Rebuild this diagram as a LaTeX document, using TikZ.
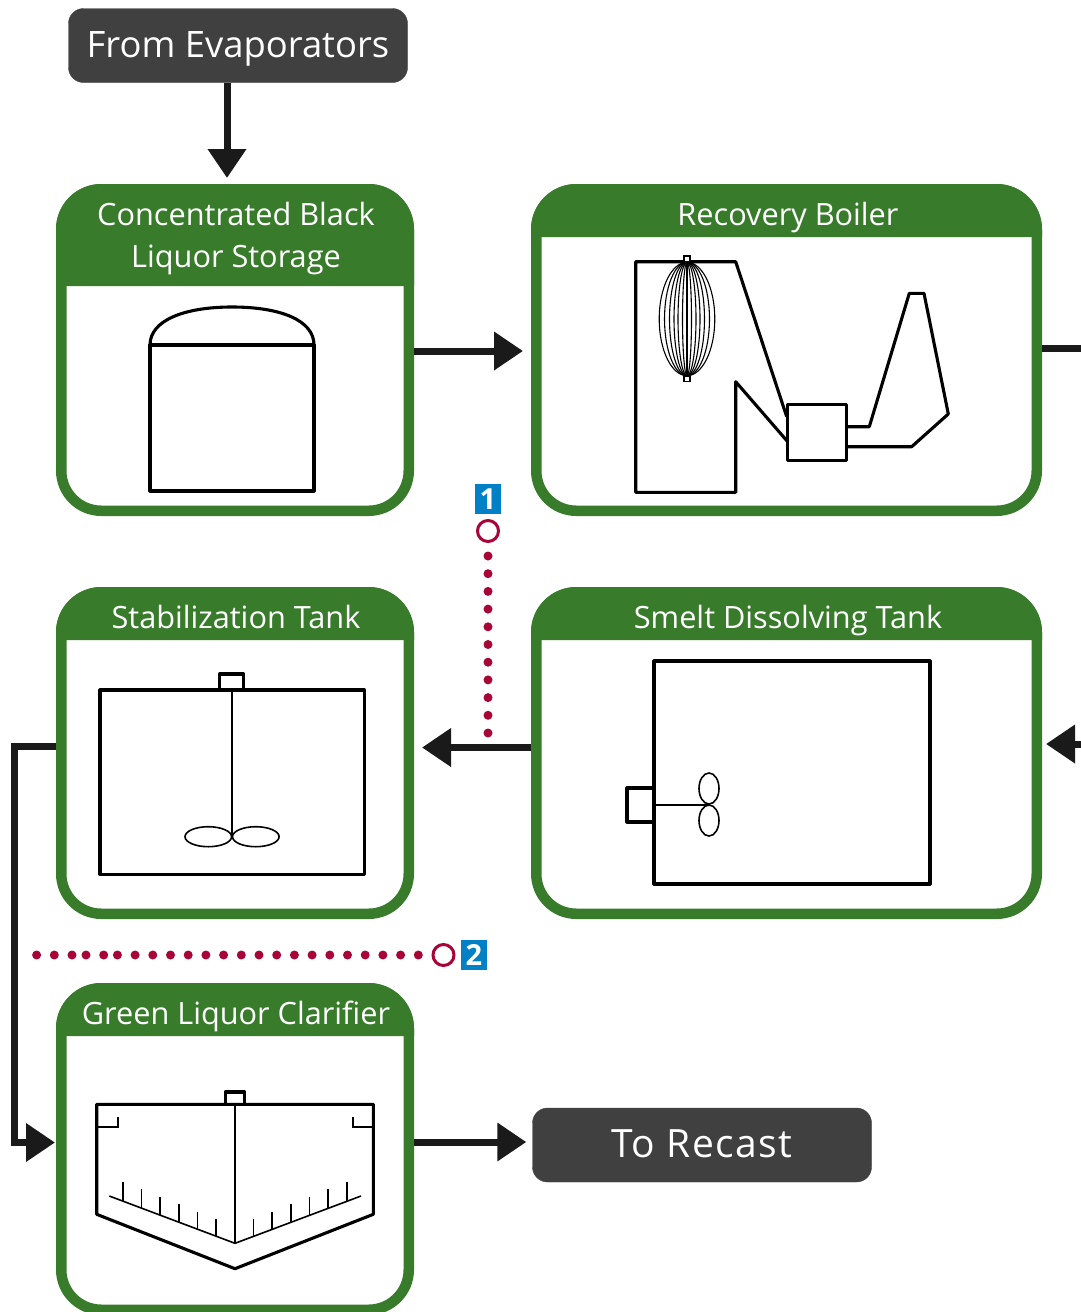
\documentclass[tikz,border=0pt]{standalone}
\usepackage{fontspec}
\setmainfont{Open Sans}
\usetikzlibrary{arrows.meta,calc}
\definecolor{hgreen}{HTML}{387C2B}
\definecolor{slate}{HTML}{404040}
\definecolor{ink}{HTML}{1A1A1A}
\definecolor{badgeblue}{HTML}{0080C6}
\definecolor{crim}{HTML}{A80438}
\tikzset{
  panel/.style={draw=hgreen,line width=10.5pt,rounded corners=40pt,fill=white,inner sep=0pt},
  headtxt/.style={text=white,font=\fontsize{30.7}{42}\selectfont,align=center,inner sep=0pt},
  basetxt/.style={headtxt,anchor=base},
  term/.style={fill=slate,draw=slate,rounded corners=15pt,text=white,font=\fontsize{36.4}{40}\selectfont,minimum width=339pt,minimum height=74pt,inner sep=0pt,text height=24pt,text depth=0pt},
  arr/.style={draw=ink,line width=7pt,-{Triangle[length=29pt,width=37pt]}},
  plain/.style={draw=ink,line width=7pt},
  heavy/.style={draw=black,line width=3.1pt,line join=round},
  thin/.style={draw=black,line width=1.6pt},
  fine/.style={draw=black,line width=1.1pt},
  badge/.style={fill=badgeblue,text=white,font=\bfseries\fontsize{29}{30}\selectfont,minimum width=26pt,minimum height=30pt,inner sep=0pt},
  ring/.style={circle,draw=crim,line width=3pt,minimum size=21pt,inner sep=0pt,fill=white},
  dots/.style={draw=crim,line width=9pt,line cap=round,dash pattern=on 0pt off 17.7pt}
}
\newcommand{\headband}[4]{\fill[hgreen] (#1,#4) [rounded corners=45.5pt] -- (#1,#3) -- (#2,#3) [sharp corners] -- (#2,#4) -- cycle;}
\begin{document}
\begin{tikzpicture}[x=1pt,y=-1pt]
\useasboundingbox (0,0) rectangle (1080,1312);
\fill[white] (0,0) rectangle (1080,1312);
% panels
\node[panel,minimum width=347.5pt,minimum height=321.5pt] (boxA) at (235,350) {};
\node[panel,minimum width=500.5pt,minimum height=321.5pt] (boxB) at (786.5,350) {};
\node[panel,minimum width=347.5pt,minimum height=321.5pt] (boxC) at (235,753) {};
\node[panel,minimum width=500.5pt,minimum height=321.5pt] (boxD) at (786.5,753) {};
\node[panel,minimum width=347.5pt,minimum height=321.5pt] (boxE) at (235,1149) {};
\headband{56}{414}{184}{286}
\headband{531}{1042}{184}{237}
\headband{56}{414}{587}{640}
\headband{531}{1042}{587}{640}
\headband{56}{414}{983}{1036}
\node[headtxt] (tA) at (236,239) {Concentrated Black\\Liquor Storage};
\node[basetxt] (tB) at (788,225) {Recovery Boiler};
\node[basetxt] (tC) at (236,628) {Stabilization Tank};
\node[basetxt] (tD) at (788,628) {Smelt Dissolving Tank};
\node[basetxt] (tE) at (236,1024) {Green Liquor Clarifier};
% terminals
\node[term] (evap) at (238,45.5) {From Evaporators};
\node[term,font=\fontsize{39}{40}\selectfont\addfontfeature{LetterSpace=3.4}] (recast) at (702,1145) {To Recast};
% off-page ends
\coordinate (offB) at (1090,348);
\coordinate (offD) at (1090,744);
\coordinate (bendT) at (14.5,746.5);
\coordinate (bendB) at (14.5,1142.5);
% connectors
\draw[arr,shorten >=6pt] ([xshift=-11pt]evap.south) -- ([xshift=-8pt]boxA.north);
\draw[arr,shorten >=8pt] ([yshift=-1pt]boxA.east) -- ([yshift=-1pt]boxB.west);
\draw[plain] ([yshift=2pt]boxB.east) -- (offB);
\draw[arr,shorten >=4pt] (offD) -- ([yshift=9pt]boxD.east);
\draw[arr,shorten >=8pt] ([yshift=5.5pt]boxD.west) -- ([yshift=5.5pt]boxC.east);
\draw[arr,line join=miter,shorten >=1pt] ([yshift=6.5pt]boxC.west) -- (bendT) -- (bendB) -- ([yshift=6.5pt]boxE.west);
\draw[arr,shorten >=6pt] ([yshift=7pt]boxE.east) -- ([yshift=3pt]recast.west);
% markers
\node[badge] (b1) at (488,499) {1};
\node[ring] (r1) at (488,531) {};
\node[ring] (r2) at (443.5,955) {};
\node[badge] (b2) at (474,955) {2};
\coordinate (d1a) at (488,556);
\coordinate (d1b) at (488,733.5);
\draw[dots] (d1a) -- (d1b);
\coordinate (d2a) at (418.3,955);
\coordinate (d2b) at (117,955);
\coordinate (d2c) at (103.7,955);
\coordinate (d2d) at (85.5,955);
\coordinate (d2e) at (72,955);
\coordinate (d2f) at (36,955);
\draw[dots] (d2a) -- (d2b) (d2c) -- (d2d) (d2e) -- (d2f);
% storage tank
\draw[heavy] (150,345) rectangle (314,491);
\draw[heavy] (150,345) .. controls (150,320) and (185,307) .. (232,307) .. controls (280,307) and (314,320) .. (314,345);
% recovery boiler
\draw[heavy] (786.7,416.7) -- (735.7,261.7) -- (635.7,261.7) -- (635.7,492.3) -- (735.7,492.3) -- (735.7,381.7) -- (787.7,441.7);
\draw[heavy] (787.7,404.3) rectangle (846.7,460.5);
\draw[heavy] (846.7,426.7) -- (869.3,426.7) -- (909.3,293.3) -- (924,293.3) -- (948.3,414) -- (911.7,446.7) -- (846.7,446.7);
\foreach \r in {27.8,22.5,17.5,13,9,4.5}{\draw[fine] (687,319) ellipse [x radius=\r,y radius=56.7];}
\draw[fine] (687,262.3) -- (687,375.7);
\draw[fine,fill=white] (684,256) rectangle (690,262);
\draw[fine,fill=white] (684,376.5) rectangle (690,381.3);
% stabilization tank
\draw[heavy] (100,690) rectangle (364.3,874.3);
\draw[heavy] (219.7,690) rectangle (243.7,674);
\draw[thin] (231.7,690) -- (231.7,837);
\draw[thin] (208.3,836.7) ellipse [x radius=23.3,y radius=10];
\draw[thin] (255.8,836.7) ellipse [x radius=23.3,y radius=10];
% dissolving tank
\draw[heavy] (654,661) rectangle (930,884);
\draw[heavy] (627,788) rectangle (654,822);
\draw[thin] (654,805) -- (709,805);
\draw[thin] (709,788.5) ellipse [x radius=10,y radius=15.5];
\draw[thin] (709,820.5) ellipse [x radius=10,y radius=15.5];
% clarifier
\draw[heavy] (96.7,1104.3) -- (373.3,1104.3) -- (373.3,1214.3) -- (235,1268.7) -- (96.7,1214.3) -- cycle;
\draw[heavy] (225.3,1104.3) rectangle (244.7,1092);
\draw[thin] (235,1104.3) -- (235,1243.3);
\draw[thin] (96.7,1126.7) -- (117.7,1126.7) -- (117.7,1116.7);
\draw[thin] (373.3,1126.7) -- (352.7,1126.7) -- (352.7,1116.7);
\draw[thin] (109.3,1196) -- (235,1243.3) -- (361,1196);
\foreach \x/\t/\b in {122.7/1182.3/1201,141.3/1189.3/1208,160/1197.3/1215,178.7/1204.3/1222,197.3/1212.3/1229,216/1219.3/1236,253.3/1219.3/1236.4,272/1212.3/1229,290.7/1204.3/1222,309.3/1197.3/1215,328/1189.3/1208,347/1182.3/1201}{\draw[thin] (\x,\t) -- (\x,\b);}
\end{tikzpicture}
\end{document}
